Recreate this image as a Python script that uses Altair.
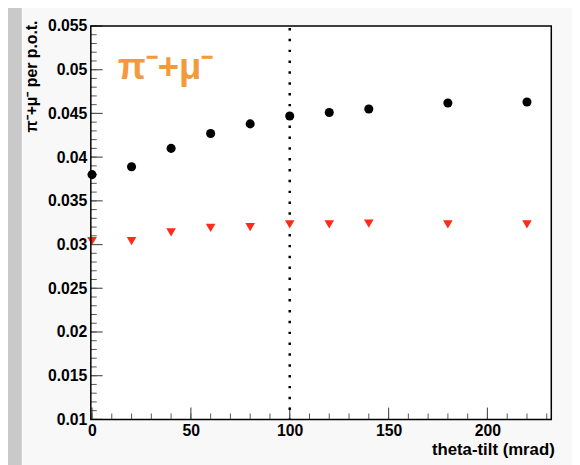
import altair as alt
import pandas as pd

# data
theta = [0, 20, 40, 60, 80, 100, 120, 140, 180, 220]
total = [0.0380, 0.0389, 0.0410, 0.0427, 0.0438, 0.0447, 0.0451, 0.0455, 0.0462, 0.0463]
lower = [0.0304, 0.0304, 0.0314, 0.0319, 0.0320, 0.0323, 0.0323, 0.0324, 0.0323, 0.0323]
cut_x = [100]

y_major = [0.01, 0.015, 0.02, 0.025, 0.03, 0.035, 0.04, 0.045, 0.05, 0.055]
y_minor = [round(0.01 + 0.001 * i, 4) for i in range(46)]
x_major = [0, 50, 100, 150, 200]
x_minor = list(range(0, 231, 10))

W, H = 467, 399
FONT = "Liberation Sans"

xs = alt.Scale(domain=[-0.6, 232.3], nice=False, zero=False)
ys = alt.Scale(domain=[0.01, 0.055], nice=False, zero=False)

pts = pd.DataFrame({"theta": theta, "total": total, "lower": lower})

panel = alt.Chart(pd.DataFrame({"a": [0]})).mark_rect(color="#f8f8f8").encode(
    x=alt.value(-70), x2=alt.value(W + 40), y=alt.value(-40), y2=alt.value(H + 60)
)
plotbg = alt.Chart(pd.DataFrame({"a": [0]})).mark_rect(color="#ffffff").encode(
    x=alt.value(0), x2=alt.value(W), y=alt.value(0), y2=alt.value(H)
)
frame = alt.Chart(pd.DataFrame({"a": [0]})).mark_rect(
    fillOpacity=0, stroke="black", strokeWidth=1.5
).encode(x=alt.value(0), x2=alt.value(W), y=alt.value(0), y2=alt.value(H))

xaxis = alt.Axis(values=x_major, format="d", ticks=False, domain=False, grid=False, zindex=2,
                 labelFont=FONT, labelFontWeight="bold", labelFontSize=16, labelColor="black",
                 labelPadding=3, title="theta-tilt (mrad)", titleFont=FONT, titleFontWeight="bold",
                 titleFontSize=17, titleColor="black", titleAnchor="end", titleAlign="right",
                 titleX=W + 3, titleY=36, titleBaseline="alphabetic")
yaxis = alt.Axis(values=y_major, labelExpr="format(datum.value, '.3~f')",
                 ticks=False, domain=False, grid=False, zindex=2,
                 labelFont=FONT, labelFontWeight="bold", labelFontSize=16, labelColor="black",
                 labelPadding=4, title="π⁻+μ⁻ per p.o.t.", titleFont=FONT, titleFontWeight="bold",
                 titleFontSize=16, titleColor="black", titleAnchor="end", titleX=-60, titleY=-6,
                 titleAlign="right", titleBaseline="middle", titleAngle=270)

black = alt.Chart(pts).mark_point(filled=True, shape="circle", size=85, color="black", opacity=1).encode(
    x=alt.X("theta:Q", scale=xs, axis=xaxis),
    y=alt.Y("total:Q", scale=ys, axis=yaxis),
)
red = alt.Chart(pts).mark_point(filled=True, shape="triangle-down", size=95, color="#ff2a1a", opacity=1).encode(
    x=alt.X("theta:Q", scale=xs),
    y=alt.Y("lower:Q", scale=ys),
)

cut = alt.Chart(pd.DataFrame({"x": cut_x})).mark_rule(color="black", strokeWidth=2.5, strokeDash=[2.5, 8.5]).encode(
    x=alt.X("x:Q", scale=xs), y=alt.value(2), y2=alt.value(H)
)

ymaj = alt.Chart(pd.DataFrame({"v": y_major})).mark_rule(color="#555555", strokeWidth=1.2).encode(
    y=alt.Y("v:Q", scale=ys), x=alt.value(0), x2=alt.value(12)
)
ymin = alt.Chart(pd.DataFrame({"v": y_minor})).mark_rule(color="#555555", strokeWidth=1).encode(
    y=alt.Y("v:Q", scale=ys), x=alt.value(0), x2=alt.value(6)
)
xmaj = alt.Chart(pd.DataFrame({"v": x_major})).mark_rule(color="#555555", strokeWidth=1.2).encode(
    x=alt.X("v:Q", scale=xs), y=alt.value(H), y2=alt.value(H - 12)
)
xmin = alt.Chart(pd.DataFrame({"v": x_minor})).mark_rule(color="#555555", strokeWidth=1).encode(
    x=alt.X("v:Q", scale=xs), y=alt.value(H), y2=alt.value(H - 6)
)

label = alt.Chart(pd.DataFrame({"x": [13], "y": [0.0489], "t": ["π⁻+μ⁻"]})).mark_text(
    align="left", baseline="alphabetic", font=FONT, fontWeight="bold", fontSize=37, color="#f39a3c"
).encode(x=alt.X("x:Q", scale=xs), y=alt.Y("y:Q", scale=ys), text="t:N")

chart = alt.layer(panel, plotbg, ymin, ymaj, xmin, xmaj, cut, red, black, label, frame).properties(
    width=W, height=H,
    autosize=alt.AutoSizeParams(type="none"),
    padding={"left": 84, "top": 15, "right": 21, "bottom": 43},
    background="#c9c9c9",
).configure_view(stroke=None)

chart.save("out.html", embed_options={"renderer": "svg", "actions": False})
